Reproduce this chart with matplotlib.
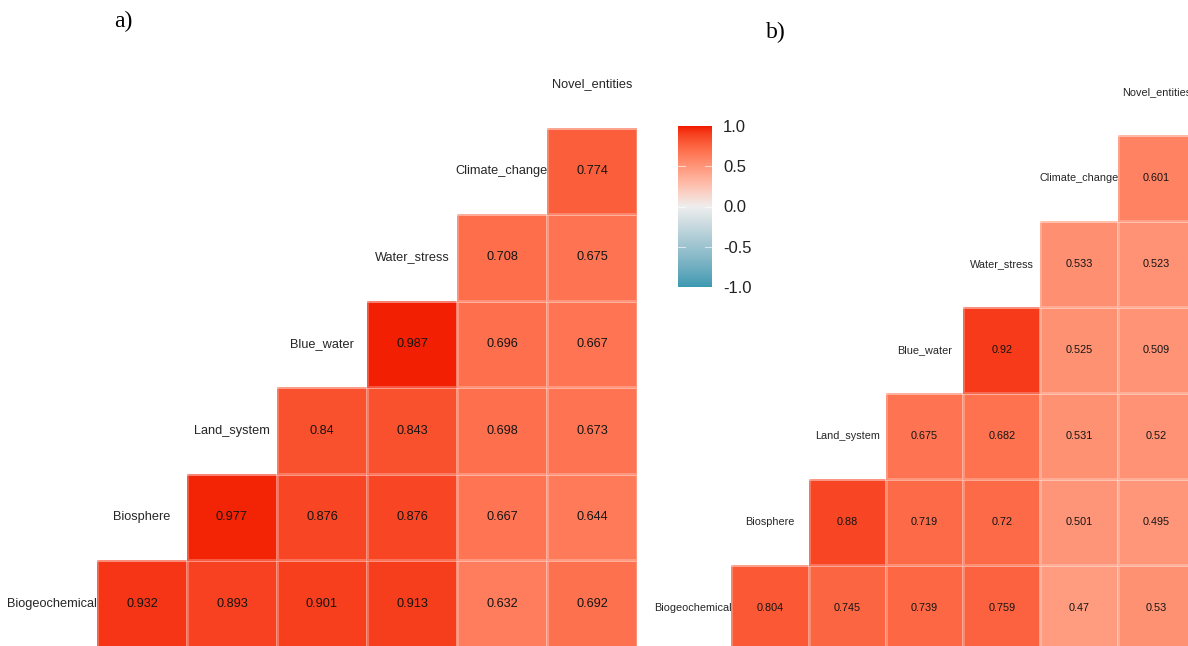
import numpy as np
import matplotlib
matplotlib.use("Agg")
import matplotlib.pyplot as plt
from matplotlib.colors import ListedColormap, to_rgb, Normalize

# ---------------- data ----------------
variables = ["Biogeochemical", "Biosphere", "Land_system", "Blue_water",
             "Water_stress", "Climate_change", "Novel_entities"]

# lower-triangle correlations, row i holds corr(var_i, var_j) for j > i
corr_a = [
    [0.932, 0.893, 0.901, 0.913, 0.632, 0.692],
    [0.977, 0.876, 0.876, 0.667, 0.644],
    [0.84, 0.843, 0.698, 0.673],
    [0.987, 0.696, 0.667],
    [0.708, 0.675],
    [0.774],
]
corr_b = [
    [0.804, 0.745, 0.739, 0.759, 0.47, 0.53],
    [0.88, 0.719, 0.72, 0.501, 0.495],
    [0.675, 0.682, 0.531, 0.52],
    [0.92, 0.525, 0.509],
    [0.533, 0.523],
    [0.601],
]
cbar_ticks = [-1.0, -0.5, 0.0, 0.5, 1.0]
panel_labels = ["a)", "b)"]

low, mid, high = "#3B9AB2", "#EEEEEE", "#F21A00"


# ---------------- Lab-space diverging palette (like ggplot2) ----------------
def srgb_to_lab(c):
    c = np.asarray(c, float)
    lin = np.where(c <= 0.04045, c / 12.92, ((c + 0.055) / 1.055) ** 2.4)
    M = np.array([[0.4124, 0.3576, 0.1805],
                  [0.2126, 0.7152, 0.0722],
                  [0.0193, 0.1192, 0.9505]])
    xyz = M @ lin
    wp = np.array([0.95047, 1.0, 1.08883])
    t = xyz / wp
    f = np.where(t > (6 / 29) ** 3, np.cbrt(t), t / (3 * (6 / 29) ** 2) + 4 / 29)
    return np.array([116 * f[1] - 16, 500 * (f[0] - f[1]), 200 * (f[1] - f[2])])


def lab_to_srgb(lab):
    L, a, b = lab
    fy = (L + 16) / 116
    fx = fy + a / 500
    fz = fy - b / 200
    f = np.array([fx, fy, fz])
    t = np.where(f > 6 / 29, f ** 3, 3 * (6 / 29) ** 2 * (f - 4 / 29))
    wp = np.array([0.95047, 1.0, 1.08883])
    xyz = t * wp
    Minv = np.array([[3.2406, -1.5372, -0.4986],
                     [-0.9689, 1.8758, 0.0415],
                     [0.0557, -0.2040, 1.0570]])
    lin = Minv @ xyz
    lin = np.clip(lin, 0, 1)
    c = np.where(lin <= 0.0031308, 12.92 * lin, 1.055 * lin ** (1 / 2.4) - 0.055)
    return np.clip(c, 0, 1)


L_low, L_mid, L_high = (srgb_to_lab(to_rgb(c)) for c in (low, mid, high))
cols = []
for t in np.linspace(0, 1, 256):
    if t < 0.5:
        s = t / 0.5
        lab = L_low + (L_mid - L_low) * s
    else:
        s = (t - 0.5) / 0.5
        lab = L_mid + (L_high - L_mid) * s
    cols.append(lab_to_srgb(lab))
cmap = ListedColormap(cols)
norm = Normalize(-1, 1)

# ---------------- figure ----------------
W, H = 1188, 646
fig = plt.figure(figsize=(W / 100, H / 100), dpi=100)
fig.patch.set_facecolor("white")
plt.rcParams["font.family"] = ["Liberation Sans", "DejaVu Sans"]


def px_axes(x0, y0, x1, y1):
    return fig.add_axes([x0 / W, 1 - y1 / H, (x1 - x0) / W, (y1 - y0) / H])


def draw_panel(ax, corr, fs):
    n = len(variables)
    M = np.full((n, n), np.nan)
    for i, row in enumerate(corr):
        for k, v in enumerate(row):
            M[i, i + 1 + k] = v
    ax.pcolormesh(np.arange(n + 1), np.arange(n + 1), np.ma.masked_invalid(M),
                  cmap=cmap, norm=norm, edgecolors=(1, 1, 1, 0.25),
                  linewidth=0.8)
    for i, row in enumerate(corr):
        for k, v in enumerate(row):
            ax.text(i + 1 + k + 0.5, i + 0.5, f"{v:g}", ha="center", va="center",
                    fontsize=fs, color="#141414")
    for k, name in enumerate(variables):
        ax.text(k + 0.5, k + 0.5, name, ha="center", va="center",
                fontsize=fs, color="#262626")
    ax.set_xlim(0, n)
    ax.set_ylim(0, n)
    ax.axis("off")


ax_a = px_axes(7, 41, 637, 647)
draw_panel(ax_a, corr_a, 9.2)

ax_b = px_axes(654, 49, 1195, 651)
draw_panel(ax_b, corr_b, 7.8)

# colour bar for panel a
cax = px_axes(678, 126, 712, 287)
grad = np.linspace(-1, 1, 256).reshape(-1, 1)
cax.imshow(grad, aspect="auto", cmap=cmap, norm=norm, origin="lower",
           extent=[0, 1, -1, 1])
cax.set_xlim(0, 1)
cax.set_ylim(-1, 1)
for s in cax.spines.values():
    s.set_visible(False)
cax.set_xticks([])
cax.yaxis.tick_right()
cax.set_yticks(cbar_ticks)
cax.set_yticklabels([f"{t:.1f}" for t in cbar_ticks], fontsize=12, color="#222222")
cax.tick_params(axis="y", length=0, pad=8)
for t in cbar_ticks[1:-1]:
    cax.plot([0, 0.2], [t, t], color="white", lw=0.8, alpha=0.6)
    cax.plot([0.8, 1], [t, t], color="white", lw=0.8, alpha=0.6)

# panel labels
fig.text(123 / W, 1 - 21 / H, panel_labels[0], ha="center", va="center",
         fontsize=17, family=["Liberation Serif", "DejaVu Serif"], color="black")
fig.text(776 / W, 1 - 32 / H, panel_labels[1], ha="center", va="center",
         fontsize=17, family=["Liberation Serif", "DejaVu Serif"], color="black")

fig.savefig("out.png", dpi=100, facecolor="white")
